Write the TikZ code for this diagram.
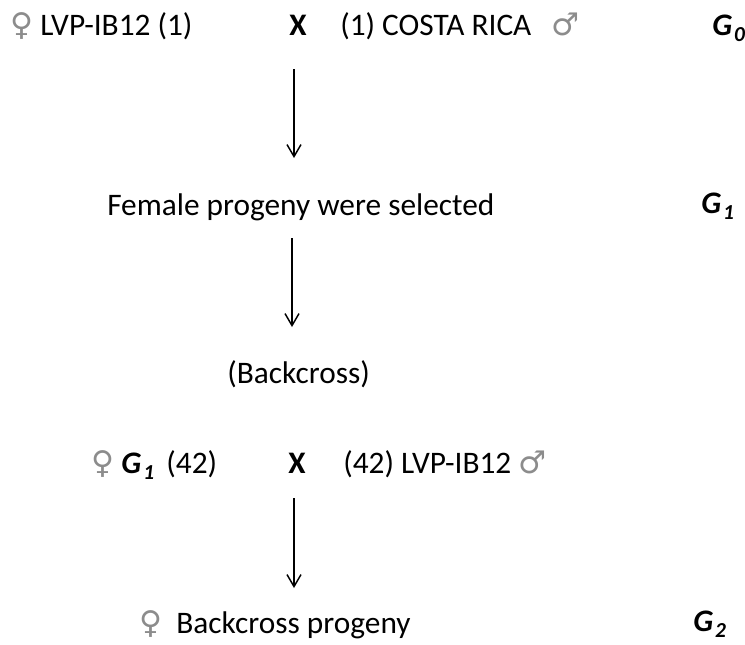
\documentclass[tikz,border=0pt]{standalone}
\usepackage{fontspec}
\setmainfont{Carlito}
\newfontfamily\genderfont{DejaVu Sans}
\usetikzlibrary{arrows.meta}

\newcommand{\fem}{{\genderfont\color{black!45}\char"2640}}
\newcommand{\mal}{{\genderfont\color{black!45}\char"2642}}
\newcommand{\gen}[1]{\textbf{\textit{G}}\kern1.5pt\raisebox{-5pt}{\fontsize{16}{18}\selectfont\bfseries\itshape #1}}

\begin{document}
\begin{tikzpicture}[x=0.75pt,y=-0.75pt,line join=round,
    txt/.style={anchor=base west,inner sep=0pt,font=\fontsize{23.5}{28}\selectfont},
    cross/.style={anchor=base west,inner sep=0pt,font=\fontsize{23.5}{28}\selectfont\bfseries},
    flow/.style={line width=1.1pt,-{Straight Barb[length=9pt,width=10.5pt,line width=1.1pt]}}]
  % Match the artwork frame.
  \useasboundingbox (0,0) rectangle (745,644);

  % Parental cross.
  \node[txt]   (p0f) at (10,35) {\fem\ LVP-IB12 (1)};
  \node[cross] (p0x) at (289,35) {X};
  \node[txt]   (p0m) at (340,35) {(1) COSTA RICA\hspace{15pt}\mal};
  \node[txt]   (g0)  at (712,35) {\gen{0}};

  % First generation.
  \node[txt] (sel) at (107,215) {Female progeny were selected};
  \node[txt] (g1)  at (701,213) {\gen{1}};
  \node[txt] (bc)  at (227,383) {(Backcross)};

  % Backcross.
  \node[txt]   (p1f) at (91,473) {\fem\ \gen{1}\ \,(42)};
  \node[cross] (p1x) at (288,473) {X};
  \node[txt]   (p1m) at (343,473) {(42) LVP-IB12 \mal};

  % Second generation.
  \node[txt] (prog) at (139,633) {\fem\ \ Backcross progeny};
  \node[txt] (g2)   at (693,631) {\gen{2}};

  % Arrow ends.
  \coordinate (a0s) at (294,69);
  \coordinate (a0e) at (294,158);
  \coordinate (a1s) at (292,238);
  \coordinate (a1e) at (292,327);
  \coordinate (a2s) at (294,498);
  \coordinate (a2e) at (294,588);

  \draw[flow] (a0s) -- (a0e);
  \draw[flow] (a1s) -- (a1e);
  \draw[flow] (a2s) -- (a2e);
\end{tikzpicture}
\end{document}
